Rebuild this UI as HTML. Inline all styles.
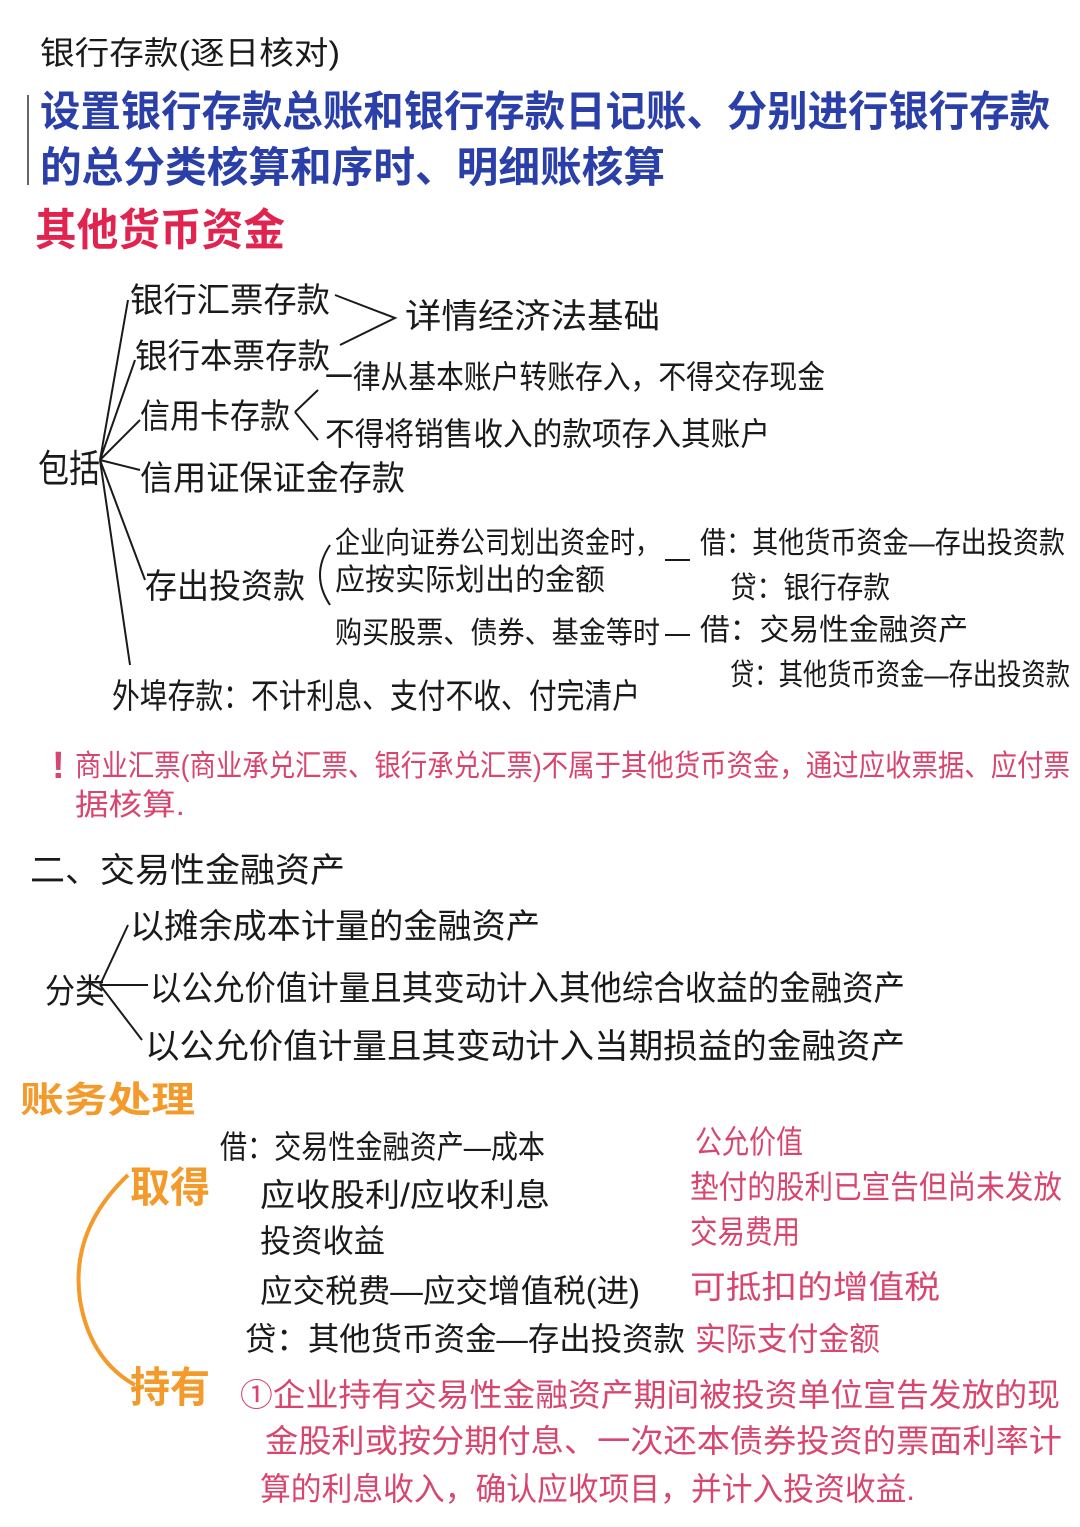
<!DOCTYPE html>
<html><head><meta charset="utf-8"><style>
html,body{margin:0;padding:0;background:#fff;}
svg{display:block;}
text{font-family:"Liberation Sans","Noto Sans CJK SC",sans-serif;}
</style></head><body>
<svg width="1080" height="1527" viewBox="0 0 1080 1527" xmlns="http://www.w3.org/2000/svg">
<rect width="1080" height="1527" fill="#fff"/>
<g fill="#1a1a1a">
<text x="40" y="64" font-size="32" textLength="300" lengthAdjust="spacingAndGlyphs">银行存款(逐日核对)</text>
</g>
<g fill="#2b3fa8" font-weight="bold">
<text x="40" y="126" font-size="42" textLength="1010" lengthAdjust="spacingAndGlyphs">设置银行存款总账和银行存款日记账、分别进行银行存款</text>
<text x="40" y="182" font-size="42" textLength="625" lengthAdjust="spacingAndGlyphs">的总分类核算和序时、明细账核算</text>
</g>
<line x1="28" y1="95" x2="28" y2="185" stroke="#333" stroke-width="1.5"/>
<text x="35" y="245" font-size="44" font-weight="bold" fill="#e0244f" textLength="250" lengthAdjust="spacingAndGlyphs">其他货币资金</text>
<g fill="#1a1a1a" font-size="34">
<text x="130" y="312" textLength="200" lengthAdjust="spacingAndGlyphs">银行汇票存款</text>
<text x="135" y="368" textLength="195" lengthAdjust="spacingAndGlyphs">银行本票存款</text>
<text x="140" y="428" textLength="150" lengthAdjust="spacingAndGlyphs">信用卡存款</text>
<text x="140" y="490" textLength="265" lengthAdjust="spacingAndGlyphs">信用证保证金存款</text>
<text x="38" y="482" font-size="38" textLength="62" lengthAdjust="spacingAndGlyphs">包括</text>
<text x="405" y="328" textLength="255" lengthAdjust="spacingAndGlyphs">详情经济法基础</text>
<text x="325" y="388" font-size="32" textLength="500" lengthAdjust="spacingAndGlyphs">一律从基本账户转账存入，不得交存现金</text>
<text x="325" y="445" font-size="32" textLength="445" lengthAdjust="spacingAndGlyphs">不得将销售收入的款项存入其账户</text>
<text x="145" y="598" textLength="160" lengthAdjust="spacingAndGlyphs">存出投资款</text>
<text x="335" y="553" font-size="30" textLength="325" lengthAdjust="spacingAndGlyphs">企业向证券公司划出资金时，</text>
<text x="335" y="590" font-size="30" textLength="270" lengthAdjust="spacingAndGlyphs">应按实际划出的金额</text>
<text x="335" y="643" font-size="30" textLength="325" lengthAdjust="spacingAndGlyphs">购买股票、债券、基金等时</text>
<text x="700" y="553" font-size="30" textLength="365" lengthAdjust="spacingAndGlyphs">借：其他货币资金—存出投资款</text>
<text x="730" y="598" font-size="30" textLength="160" lengthAdjust="spacingAndGlyphs">贷：银行存款</text>
<text x="700" y="640" font-size="30" textLength="268" lengthAdjust="spacingAndGlyphs">借：交易性金融资产</text>
<text x="730" y="685" font-size="30" textLength="340" lengthAdjust="spacingAndGlyphs">贷：其他货币资金—存出投资款</text>
<text x="112" y="708" textLength="528" lengthAdjust="spacingAndGlyphs">外埠存款：不计利息、支付不收、付完清户</text>
</g>
<g stroke="#1a1a1a" stroke-width="2" fill="none">
<path d="M100 460 L128 300 M100 460 L135 360 M100 460 L140 420 M100 460 L140 470 M100 460 L145 580 M100 460 L130 665"/>
<path d="M335 295 L395 318 L340 345"/>
<path d="M295 412 L318 390 M295 412 L318 440"/>
<path d="M330 545 Q310 575 330 605"/>
<path d="M665 560 L690 560 M665 635 L690 635"/>
</g>
<g fill="#d8456f" font-size="30">
<text x="52" y="778" font-size="38" font-weight="bold">!</text>
<text x="75" y="776" textLength="995" lengthAdjust="spacingAndGlyphs">商业汇票(商业承兑汇票、银行承兑汇票)不属于其他货币资金，通过应收票据、应付票</text>
<text x="75" y="815" textLength="110" lengthAdjust="spacingAndGlyphs">据核算.</text>
</g>
<g fill="#1a1a1a" font-size="34">
<text x="30" y="882" textLength="315" lengthAdjust="spacingAndGlyphs">二、交易性金融资产</text>
<text x="130" y="938" textLength="410" lengthAdjust="spacingAndGlyphs">以摊余成本计量的金融资产</text>
<text x="45" y="1003" textLength="60" lengthAdjust="spacingAndGlyphs">分类</text>
<text x="150" y="1000" textLength="755" lengthAdjust="spacingAndGlyphs">以公允价值计量且其变动计入其他综合收益的金融资产</text>
<text x="145" y="1058" textLength="760" lengthAdjust="spacingAndGlyphs">以公允价值计量且其变动计入当期损益的金融资产</text>
</g>
<g stroke="#1a1a1a" stroke-width="2" fill="none">
<path d="M100 985 L128 925 M100 985 L148 985 M100 985 L142 1040"/>
</g>
<g fill="#f39a2a" font-weight="bold">
<text x="20" y="1112" font-size="36" textLength="175" lengthAdjust="spacingAndGlyphs">账务处理</text>
<text x="130" y="1202" font-size="42" textLength="80" lengthAdjust="spacingAndGlyphs">取得</text>
<text x="130" y="1402" font-size="42" textLength="80" lengthAdjust="spacingAndGlyphs">持有</text>
</g>
<path d="M128 1175 Q70 1230 80 1300 Q90 1360 135 1385" stroke="#f39a2a" stroke-width="4" fill="none"/>
<g fill="#1a1a1a" font-size="32">
<text x="220" y="1158" textLength="325" lengthAdjust="spacingAndGlyphs">借：交易性金融资产—成本</text>
<text x="260" y="1206" textLength="290" lengthAdjust="spacingAndGlyphs">应收股利/应收利息</text>
<text x="260" y="1252" textLength="125" lengthAdjust="spacingAndGlyphs">投资收益</text>
<text x="260" y="1302" textLength="380" lengthAdjust="spacingAndGlyphs">应交税费—应交增值税(进)</text>
<text x="245" y="1350" textLength="440" lengthAdjust="spacingAndGlyphs">贷：其他货币资金—存出投资款</text>
</g>
<g fill="#d8456f" font-size="32">
<text x="695" y="1153" textLength="108" lengthAdjust="spacingAndGlyphs">公允价值</text>
<text x="690" y="1198" textLength="372" lengthAdjust="spacingAndGlyphs">垫付的股利已宣告但尚未发放</text>
<text x="690" y="1243" textLength="110" lengthAdjust="spacingAndGlyphs">交易费用</text>
<text x="690" y="1298" textLength="250" lengthAdjust="spacingAndGlyphs">可抵扣的增值税</text>
<text x="695" y="1350" textLength="185" lengthAdjust="spacingAndGlyphs">实际支付金额</text>
<text x="240" y="1406" textLength="820" lengthAdjust="spacingAndGlyphs">①企业持有交易性金融资产期间被投资单位宣告发放的现</text>
<text x="265" y="1452" textLength="797" lengthAdjust="spacingAndGlyphs">金股利或按分期付息、一次还本债券投资的票面利率计</text>
<text x="260" y="1500" textLength="655" lengthAdjust="spacingAndGlyphs">算的利息收入，确认应收项目，并计入投资收益.</text>
</g>
</svg>
</body></html>
